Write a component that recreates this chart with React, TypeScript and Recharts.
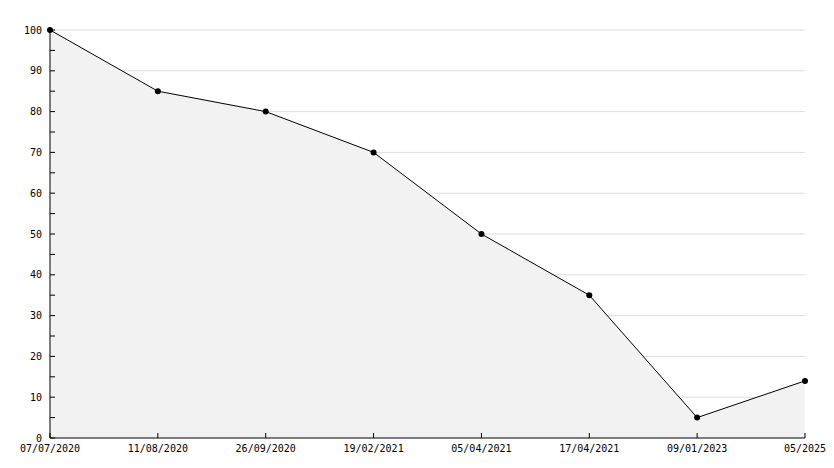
import React from "react";
import { AreaChart, Area, XAxis, YAxis, CartesianGrid } from "recharts";

const dates = [
  "07/07/2020",
  "11/08/2020",
  "26/09/2020",
  "19/02/2021",
  "05/04/2021",
  "17/04/2021",
  "09/01/2023",
  "05/2025",
];
const values = [100, 85, 80, 70, 50, 35, 5, 14];
const yTicks = [0, 5, 10, 15, 20, 25, 30, 35, 40, 45, 50, 55, 60, 65, 70, 75, 80, 85, 90, 95, 100];
const gridValues = [10, 20, 30, 40, 50, 60, 70, 80, 90, 100];

const data = dates.map((d, i) => ({ date: d, value: values[i] }));

const FONT = "'DejaVu Sans Mono', monospace";

const YTick = (props: any) => {
  const { x, y, payload } = props;
  const v = payload.value;
  return (
    <g>
      <line x1={x + 8} x2={x + 13} y1={y} y2={y} stroke="#000" />
      {v % 10 === 0 && (
        <text x={x} y={y} dy="0.355em" textAnchor="end" fontSize={10} fontFamily={FONT} fill="#000">
          {v}
        </text>
      )}
    </g>
  );
};

const XTick = (props: any) => {
  const { x, y, payload } = props;
  return (
    <g>
      <line x1={x} x2={x} y1={438} y2={433} stroke="#000" />
      <text x={x} y={445} dy="0.71em" textAnchor="middle" fontSize={10} fontFamily={FONT} fill="#000">
        {payload.value}
      </text>
    </g>
  );
};

const Dot = (props: any) => {
  const { cx, cy } = props;
  if (cx == null || cy == null) return null;
  return <circle cx={cx} cy={cy} r={3} fill="#000" stroke="none" />;
};

export default function App() {
  return (
    <div style={{ position: "absolute", left: 0, top: 0, background: "#fff" }}>
      <AreaChart
        width={834}
        height={468}
        data={data}
        margin={{ top: 30, right: 29, bottom: 0, left: 0 }}
      >
        <CartesianGrid
          horizontal={true}
          vertical={false}
          stroke="#dddddd"
          horizontalValues={gridValues}
        />
        <XAxis
          dataKey="date"
          interval={0}
          tickSize={0}
          tickMargin={4}
          tickLine={false}
          axisLine={{ stroke: "#000" }}
          tick={<XTick />}
          height={30}
        />
        <YAxis
          domain={[0, 100]}
          ticks={yTicks}
          interval={0}
          width={50}
          tickSize={0}
          tickMargin={8}
          tickLine={false}
          axisLine={{ stroke: "#000" }}
          tick={<YTick />}
        />
        <Area
          type="linear"
          dataKey="value"
          stroke="#000"
          strokeWidth={1}
          fill="#f2f2f2"
          fillOpacity={1}
          dot={<Dot />}
          activeDot={false}
          isAnimationActive={false}
        />
      </AreaChart>
    </div>
  );
}
